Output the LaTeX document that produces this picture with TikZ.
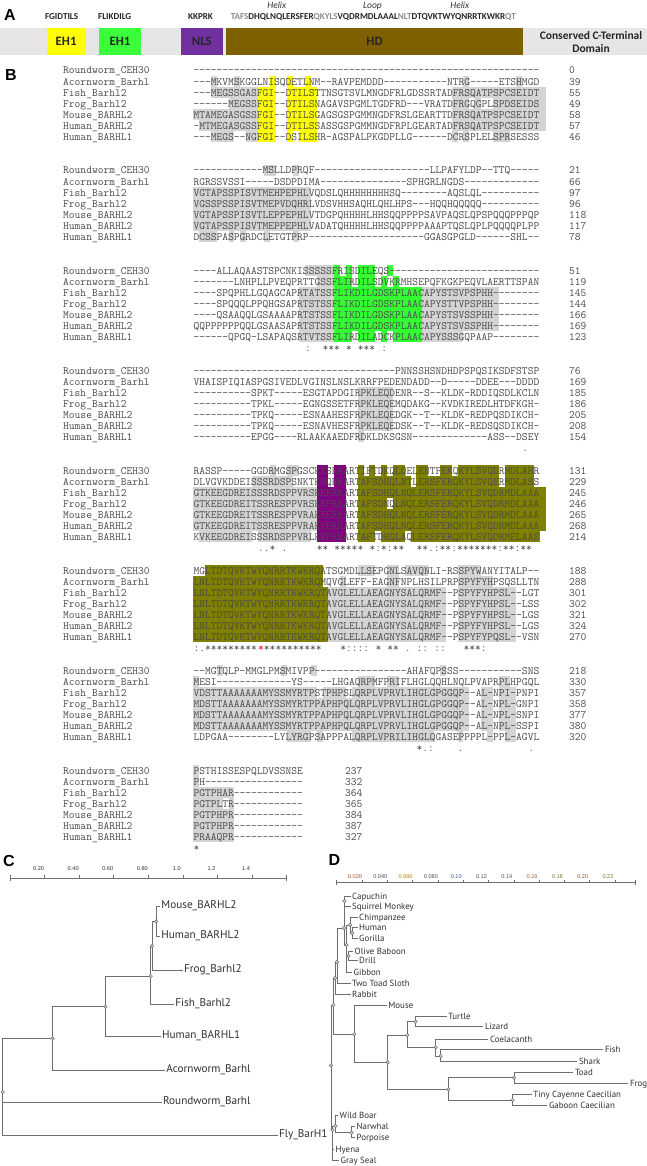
\documentclass[tikz,border=0pt]{standalone}
\usepackage{fontspec}
\newfontfamily\carl{Carlito}
\newfontfamily\pts{PT Sans}
\newfontfamily\lsans{Liberation Sans}
\newcommand\seqf{\ttfamily\fontsize{11.19}{12}\selectfont}
\definecolor{hlgray}{HTML}{D4D4D4}
\definecolor{hlyel}{HTML}{FFFF00}
\definecolor{hlgrn}{HTML}{33FF33}
\definecolor{hlpur}{HTML}{800080}
\definecolor{hlolv}{HTML}{808000}
\definecolor{hdc}{HTML}{7F6000}
\definecolor{nlsc}{HTML}{7030A0}
\definecolor{eh1g}{HTML}{3CFF3C}
\definecolor{barbg}{HTML}{E6E6E6}
\definecolor{seqc}{HTML}{4A4A4A}
\definecolor{treeg}{HTML}{6E6E6E}
\definecolor{leafc}{HTML}{303030}
\definecolor{tnfill}{HTML}{D8D8D8}
\definecolor{faint}{HTML}{8C8C8C}
\newcommand\hlrun[5]{\fill[#1] ({193.3+5.873*(#4)},{70.5+100*(#2)+11.05*(#3)-5.6}) rectangle ({193.3+5.873*((#5)+1)},{70.5+100*(#2)+11.05*(#3)+5.6});}
\newcommand\seqrow[5]{%
 \node[seqtxt] (s#1#2) at (193.3,{74+100*(#1)+11.05*(#2)}) {#3};
 \node[seqtxt] (n#1#2) at (#5,{74+100*(#1)+11.05*(#2)}) {#4};}
\newcommand\csn[4]{\node[seqtxt,#4] (c#1x#2) at ({193.3+5.873*(#2)},{74+100*(#1)+11.05*7}) {#3};}
\begin{document}
\begin{tikzpicture}[x=1pt,y=-1pt,
 seqtxt/.style={inner sep=0pt, anchor=base west, text=seqc, font=\seqf},
 br/.style={draw=treeg, line width=0.9pt},
 tn/.style={circle, draw=treeg, fill=tnfill, inner sep=0pt, minimum size=3.4pt, line width=0.5pt},
 lfC/.style={anchor=base west, inner sep=0pt, text=leafc, font=\pts\fontsize{11.2}{12}\selectfont},
 lfD/.style={anchor=base west, inner sep=0pt, text=leafc, font=\pts\fontsize{8.9}{10}\selectfont},
 scbar/.style={draw=treeg, line width=0.6pt},
 scl/.style={inner sep=0pt, anchor=base, text=leafc, font=\lsans\fontsize{5.6}{6}\selectfont},
 abox/.style={minimum height=27pt, inner sep=0pt, text=black!85, font=\carl\bfseries\fontsize{12.8}{14}\selectfont},
 alab/.style={anchor=base, inner sep=0pt, text=black!85, font=\carl\bfseries\fontsize{9.1}{10}\selectfont},
 ait/.style={anchor=base, inner sep=0pt, text=black!80, font=\carl\itshape\fontsize{9.5}{10}\selectfont},
 plab/.style={anchor=base west, inner sep=0pt, text=black, font=\lsans\bfseries\fontsize{16}{18}\selectfont}]
\useasboundingbox (0,0) rectangle (647,1166);
\fill[white] (0,0) rectangle (647,1166);

% ---------------- Panel A ----------------
\node[plab] (pA) at (4,20.5) {A};
\fill[barbg] (0,28) rectangle (647,55);
\node[abox, fill=hlyel, minimum width=38.8pt] (eh1y) at (66.1,41.5) {EH1};
\node[abox, fill=eh1g, minimum width=42pt] (eh1gr) at (120,41.5) {EH1};
\node[abox, fill=nlsc, minimum width=42.4pt] (nls) at (201.8,41.5) {NLS};
\node[abox, fill=hdc, minimum width=296.3pt] (hd) at (374.55,41.5) {HD};
\node[font=\carl\bfseries\fontsize{11.5}{13.5}\selectfont, align=center, text=black!85, inner sep=0pt] (ctd) at (591,42) {Conserved C-Terminal\\Domain};
\node[alab] (lfg) at (61.6,20) {FGIDTILS};
\node[alab] (lfl) at (114.7,20) {FLIKDILG};
\node[alab] (lkk) at (200.5,20) {KKPRK};
\node[alab, anchor=base west] (lhd) at (230.6,20) {\textcolor{faint}{TAFS}DHQLNQLERSFER\textcolor{faint}{QKYLS}VQDRMDLAAAL\textcolor{faint}{NLT}DTQVKTWYQNRRTKWKR\textcolor{faint}{QT}};
\node[ait] (hx1) at (276.8,8.5) {Helix};
\node[ait] (lp1) at (372.5,8.5) {Loop};
\node[ait] (hx2) at (459.8,8.5) {Helix};

% ---------------- Panel B ----------------
\node[plab] (pB) at (5,81) {B};
% gray shading
\foreach \qb/\qr/\qs/\qe in {0/1/3/3,0/1/7/7,0/1/46/46,0/1/55/55,
 0/2/3/10,0/2/44/59,0/3/6/10,0/3/44/46,0/3/48/48,0/3/51/59,0/4/0/10,0/4/44/59,0/5/1/10,0/5/44/59,
 0/6/3/6,0/6/9/10,0/6/44/44,0/6/46/46,0/6/51/53,
 1/0/12/13,1/0/17/17,1/2/0/19,1/3/0/19,1/4/0/19,1/5/0/19,1/6/1/3,1/6/6/6,1/6/8/8,1/6/12/12,1/6/17/17,
 2/0/19/23,2/1/21/23,2/2/18/23,2/2/39/51,2/3/18/23,2/3/39/51,2/4/18/23,2/4/39/51,2/5/18/23,2/5/39/51,2/6/18/23,2/6/39/45,
 3/2/28/33,3/3/28/33,3/4/28/33,3/5/28/33,3/6/28/28,
 4/0/13/13,4/0/16/17,4/1/10/16,4/2/0/20,4/3/0/20,4/4/0/20,4/5/0/20,4/6/1/9,4/6/11/19,
 5/0/28/30,5/0/33/34,5/0/36/39,5/0/45/48,5/1/25/25,5/1/33/34,5/1/45/50,
 5/2/23/42,5/2/45/54,5/3/23/42,5/3/45/54,5/4/23/42,5/4/45/54,5/5/23/42,5/5/45/54,5/6/23/42,5/6/45/54,
 6/0/4/4,6/0/15/15,6/0/20/20,6/0/42/42,6/1/0/0,6/1/28/30,6/1/33/34,6/1/52/53,
 6/2/0/20,6/2/22/25,6/2/27/46,6/2/49/50,6/2/52/54,6/3/0/46,6/3/49/50,6/3/52/54,
 6/4/0/46,6/4/49/50,6/4/52/54,6/5/0/46,6/5/49/50,6/5/52/54,
 6/6/16/19,6/6/21/21,6/6/27/40,6/6/45/45,6/6/50/50,6/6/53/54,
 7/0/0/0,7/1/0/0,7/2/0/6,7/3/0/4,7/3/6/6,7/4/0/6,7/5/0/6,7/6/0/6}
 {\hlrun{hlgray}{\qb}{\qr}{\qs}{\qe}}
% EH1 (yellow)
\foreach \qb/\qr/\qs/\qe in {0/1/13/13,0/1/16/16,0/1/19/19,0/2/11/13,0/2/16/20,0/3/11/13,0/3/16/20,
 0/4/11/13,0/4/16/20,0/5/11/13,0/5/16/20,0/6/11/13,0/6/16/16,0/6/18/20}
 {\hlrun{hlyel}{\qb}{\qr}{\qs}{\qe}}
% EH1 (green)
\foreach \qb/\qr/\qs/\qe in {2/0/24/24,2/0/26/26,2/0/28/30,2/0/33/33,2/1/24/26,2/1/28/30,2/1/32/32,2/1/34/34,
 2/2/24/38,2/3/24/38,2/4/24/38,2/5/24/38,2/6/24/26,2/6/28/30,2/6/32/32,2/6/34/38}
 {\hlrun{hlgrn}{\qb}{\qr}{\qs}{\qe}}
% NLS (purple)
\foreach \qb/\qr/\qs/\qe in {4/0/21/22,4/0/24/25,4/1/21/22,4/1/24/25,4/2/21/25,4/3/21/25,4/4/21/25,4/5/21/25,4/6/21/25}
 {\hlrun{hlpur}{\qb}{\qr}{\qs}{\qe}}
% HD (olive)
\foreach \qb/\qr/\qs/\qe in {4/0/28/28,4/0/30/30,4/0/32/32,4/0/34/35,4/0/38/39,4/0/42/43,4/0/45/51,4/0/53/57,
 4/1/28/36,4/1/38/51,4/1/53/57,4/2/28/59,4/3/28/32,4/3/34/59,4/4/28/59,4/5/28/59,
 4/6/28/30,4/6/32/35,4/6/37/58,
 5/0/2/21,5/1/0/21,5/2/0/22,5/3/0/22,5/4/0/22,5/5/0/22,5/6/0/22}
 {\hlrun{hlolv}{\qb}{\qr}{\qs}{\qe}}
% names
\foreach \qb in {0,...,7}{
 \foreach \qr/\qn in {0/Roundworm\_CEH30,1/Acornworm\_Barhl,2/Fish\_Barhl2,3/Frog\_Barhl2,4/Mouse\_BARHL2,5/Human\_BARHL2,6/Human\_BARHL1}
 {\node[seqtxt] (nm\qb\qr) at (63,{74+100*\qb+11.05*\qr}) {\qn};}
}
% block 1
\seqrow{0}{0}{------------------------------------------------------------}{0}{569}
\seqrow{0}{1}{---MKVMSKGGLNISQDETLNM--RAVPEMDDD-----------NTRG-----ETSHMGD}{39}{569}
\seqrow{0}{2}{---MEGSSGASFGI--DTILSTTNSGTSVLMNGDFRLGDSSRTADFRSQATPSPCSEIDT}{55}{569}
\seqrow{0}{3}{------MEGSSFGI--DTILSNAGAVSPGMLTGDFRD---VRATDFRGQGPLSPDSEIDS}{49}{569}
\seqrow{0}{4}{MTAMEGASGSSFGI--DTILSGAGSGSPGMMNGDFRSLGEARTTDFRSQATPSPCSEIDT}{58}{569}
\seqrow{0}{5}{-MTMEGASGSSFGI--DTILSSASSGSPGMMNGDFRPLGEARTADFRSQATPSPCSEIDT}{57}{569}
\seqrow{0}{6}{---MEGS--NGFGI--DSILSHR-AGSPALPKGDPLLG------DCRSPLELSPRSESSS}{46}{569}
% block 2
\seqrow{1}{0}{------------MSLLDPRQF--------------------LLPAFYLDP--TTQ-----}{21}{569}
\seqrow{1}{1}{RGRSSVSSI-----DSDPDIMA---------------SPHGRLNGDS-------------}{66}{569}
\seqrow{1}{2}{VGTAPSSPISVTMEHPEPHLVQDSLQHHHHHHHHSQ--------AQSLQL----------}{97}{569}
\seqrow{1}{3}{VGSSPSSPISVTMEPVDQHRLVDSVHHSAQHLQHLHPS---HQQHQQQQQ----------}{96}{569}
\seqrow{1}{4}{VGTAPSSPISVTLEPPEPHLVTDGPQHHHHLHHSQQPPPPSAVPAQSLQPSPQQQPPPQP}{118}{569}
\seqrow{1}{5}{VGTAPSSPISVTMEPPEPHLVADATQHHHHLHHSQQPPPPAAAPTQSLQPLPQQQQPLPP}{117}{569}
\seqrow{1}{6}{DCSSPASPGRDCLETGTPRP--------------------GGASGPGLD------SHL--}{78}{569}
% block 3
\seqrow{2}{0}{----ALLAQAASTSPCNKISSSSSFRISDILEQS--------------------------}{51}{569}
\seqrow{2}{1}{-------LNHPLLPVEQPRTTGSSFLIRDILSDVKRMHSEPQFKGKPEQVLAERTTSPAN}{119}{569}
\seqrow{2}{2}{----SPQPHLLGQAGCAPRTATSSFLIKDILGDSKPLAACAPYSTSVPSPHH--------}{145}{569}
\seqrow{2}{3}{----SPQQQLPPQHGSAPRTSTSSFLIKDILGDSKPLAACAPYSTTVPSPHH--------}{144}{569}
\seqrow{2}{4}{----QSAAQQLGSAAAAPRTSTSSFLIKDILGDSKPLAACAPYSTSVSSPHH--------}{166}{569}
\seqrow{2}{5}{QQPPPPPPQQLGSAASAPRTSTSSFLIKDILGDSKPLAACAPYSTSVSSPHH--------}{169}{569}
\seqrow{2}{6}{------QPGQ-LSAPAQSRTVTSSFLIRDILADCKPLAACAPYSSSGQPAAP--------}{123}{569}
\csn{2}{19}{:}{} \csn{2}{22}{***}{} \csn{2}{26}{*}{} \csn{2}{28}{***}{} \csn{2}{32}{:}{}
% block 4
\seqrow{3}{0}{-----------------------------------PNNSSHSNDHDPSPQSIKSDFSTSP}{76}{569}
\seqrow{3}{1}{VHAISPIQIASPGSIVEDLVGINSLNSLKRRFPEDENDADD--D-----DDEE---DDDD}{169}{569}
\seqrow{3}{2}{----------SPKT-----ESGTAPDGIRPKLEQDENR--S--KLDK-RDDIQSDLKCLN}{185}{569}
\seqrow{3}{3}{----------TPKL-----EGNGSSETFRPKLEQEMQDAKG--KVDKIREDLHTDFKGH-}{186}{569}
\seqrow{3}{4}{----------TPKQ-----ESNAAHESFRPKLEQEDGK--T--KLDK-REDPQSDIKCH-}{205}{569}
\seqrow{3}{5}{----------TPKQ-----ESNAVHESFRPKLEQEDSK--T--KLDK-REDSQSDIKCH-}{208}{569}
\seqrow{3}{6}{----------EPGG----RLAAKAAEDFRDKLDKSGSN-------------ASS--DSEY}{154}{569}
\csn{3}{56}{.}{}
% block 5
\seqrow{4}{0}{RASSP-----GGDRMGSPGSCKKSRKARTIFTDKQLQELENTFEKQKYLSVQDRMDLAHR}{131}{569}
\seqrow{4}{1}{DLVGVKDDEISSSRDSPSNKTKKQRKARTAFSDHQLNTLERSFERQKYLSVQERMDLASS}{229}{569}
\seqrow{4}{2}{GTKEEGDREISSSRDSPPVRSKKPRKARTAFSDHQLNQLERSFERQKYLSVQDRMDLAAA}{245}{569}
\seqrow{4}{3}{GTKEEGDREITSSRESPPVRSKKPRKARTAFSDNQLNQLERSFERQKYLSVQDRMDLAAA}{246}{569}
\seqrow{4}{4}{GTKEEGDREITSSRESPPVRAKKERKARTAFSDHQLNQLERSFERQKYLSVQDRMDLAAA}{265}{569}
\seqrow{4}{5}{GTKEEGDREITSSRESPPVRAKKERKARTAFSDHQLNQLERSFERQKYLSVQDRMDLAAA}{268}{569}
\seqrow{4}{6}{KVKEEGDREISSSRDSPPVRLKKPRKARTAFTDHQLAQLERSFERQKYLSVQDRMELAAS}{214}{569}
\csn{4}{11}{..*}{} \csn{4}{15}{.}{} \csn{4}{21}{**}{} \csn{4}{24}{*****}{} \csn{4}{30}{*:*:**}{} \csn{4}{38}{**.:**:*******:**:**}{}
% block 6
\seqrow{5}{0}{MGLTDTQVKTWYQNRRTKWKRQATSGMDLLSEPGNLSAVQNLI-RSSPYWANYITALP--}{188}{569}
\seqrow{5}{1}{LNLTDTQVKTWYQNRRTKWKRQMQVGLEFF-EAGNFNPLHSILPRPSPYFYHPSQSLLTN}{288}{569}
\seqrow{5}{2}{LNLTDTQVKTWYQNRRTKWKRQTAVGLELLAEAGNYSALQRMF--PSPYFYHPSL--LGT}{301}{569}
\seqrow{5}{3}{LNLTDTQVKTWYQNRRTKWKRQTAVGLELLAEAGNYSALQRMF--PSPYFYHPSL--LSS}{302}{569}
\seqrow{5}{4}{LNLTDTQVKTWYQNRRTKWKRQTAVGLELLAEAGNYSALQRMF--PSPYFYHPSL--LGS}{321}{569}
\seqrow{5}{5}{LNLTDTQVKTWYQNRRTKWKRQTAVGLELLAEAGNYSALQRMF--PSPYFYHPSL--LGS}{324}{569}
\seqrow{5}{6}{LNLTDTQVKTWYQNRRTKWKRQTAVGLELLAEAGNYSALQRMF--PSPYFYPQSL--VSN}{270}{569}
\csn{5}{0}{:.*********}{} \csn{5}{11}{*}{text=red} \csn{5}{12}{**********}{}
\csn{5}{25}{*::::}{} \csn{5}{31}{*}{} \csn{5}{33}{**}{} \csn{5}{36}{.}{} \csn{5}{38}{::}{} \csn{5}{41}{::}{} \csn{5}{46}{***:}{}
% block 7
\seqrow{6}{0}{--MGTQLP-MMGLPMSMIVPP----------------AHAFQPSSS-----------SNS}{218}{569}
\seqrow{6}{1}{MESI-------------YS-----LHGAQRPMFPRIFLHGLQQHLNQLPVAPRPLHPGQL}{330}{569}
\seqrow{6}{2}{VDSTTAAAAAAAMYSSMYRTPSTPHPSLQRPLVPRVLIHGLGPGGQP--AL-NPI-PNPI}{357}{569}
\seqrow{6}{3}{MDSTTAAAAAAAMYSSMYRTPPAPHPQLQRPLVPRVLIHGLGPGGQP--AL-NPL-GNPI}{358}{569}
\seqrow{6}{4}{MDSTTAAAAAAAMYSSMYRTPPAPHPQLQRPLVPRVLIHGLGPGGQP--AL-NPL-SNPI}{377}{569}
\seqrow{6}{5}{MDSTTAAAAAAAMYSSMYRTPPAPHPQLQRPLVPRVLIHGLGPGGQP--AL-NPL-SSPI}{380}{569}
\seqrow{6}{6}{LDPGAA--------LYLYRGPSAPPPALQRPLVPRILIHGLQGASEPPPPL-PPL-AGVL}{320}{569}
\csn{6}{38}{*.:}{} \csn{6}{45}{.}{} \csn{6}{57}{.}{}
% block 8
\seqrow{7}{0}{PSTHISSESPQLDVSSNSE}{237}{345}
\seqrow{7}{1}{PH-----------------}{332}{345}
\seqrow{7}{2}{PGTPHAR------------}{364}{345}
\seqrow{7}{3}{PGTPLTR------------}{365}{345}
\seqrow{7}{4}{PGTPHPR------------}{384}{345}
\seqrow{7}{5}{PGTPHPR------------}{387}{345}
\seqrow{7}{6}{PRAAQPR------------}{327}{345}
\csn{7}{0}{*}{}

% ---------------- Panel C ----------------
\node[plab] (pC) at (3,866.7) {C};
\draw[scbar] (10,878.3) -- (286.7,878.3);
\foreach \k in {0,...,8} {\draw[scbar] ({10+34.59*\k},878.3) -- ++(0,-3);}
\draw[scbar] (10,878.3) -- ++(0,2.5);
\draw[scbar] (286.7,878.3) -- ++(0,2.5);
\foreach \k/\t in {1/0.20,2/0.40,3/0.60,4/0.80,5/1.0,6/1.2,7/1.4}
 {\node[scl] (cs\k) at ({10+34.59*\k-6},870) {\t};}
\coordinate (cMH) at (156,921.5);
\coordinate (cMHF) at (152,946);
\coordinate (cMHFF) at (150.7,976);
\coordinate (cV) at (105.3,1006.5);
\coordinate (cD) at (52.7,1038.3);
\coordinate (cR) at (2.7,1092);
\foreach \qn/\qx/\qy/\qt in {Mo/160/906/Mouse\_BARHL2,Hu/160/936/Human\_BARHL2,Fr/182.7/970.5/Frog\_Barhl2,
 Fi/174/1004.3/Fish\_Barhl2,Hl/160.7/1036.7/Human\_BARHL1,Ac/165/1070/Acornworm\_Barhl,
 Ro/161.7/1102.3/Roundworm\_Barhl,Fl/277.7/1135.7/Fly\_BarH1}
 {\coordinate (e\qn) at (\qx,\qy);
  \node[lfC] (l\qn) at ({\qx+1.2},{\qy+2}) {\qt};}
\draw[br] (cMH) |- (eMo); \draw[br] (cMH) |- (eHu);
\draw[br] (cMHF) |- (cMH); \draw[br] (cMHF) |- (eFr);
\draw[br] (cMHFF) |- (cMHF); \draw[br] (cMHFF) |- (eFi);
\draw[br] (cV) |- (cMHFF); \draw[br] (cV) |- (eHl);
\draw[br] (cD) |- (cV); \draw[br] (cD) |- (eAc);
\draw[br] (cR) |- (cD); \draw[br] (cR) |- (eRo); \draw[br] (cR) |- (eFl);
\foreach \qc in {cMH,cMHF,cMHFF,cV,cD,cR} {\node[tn] (k\qc) at (\qc) {};}

% ---------------- Panel D ----------------
\node[plab] (pD) at (328.5,865) {D};
\draw[scbar] (336.7,882.7) -- (635,882.7);
\foreach \k in {0,...,11} {\draw[scbar] ({336.7+25.3*\k},882.7) -- ++(0,-3);}
\draw[scbar] (336.7,882.7) -- ++(0,2.5);
\draw[scbar] (635,882.7) -- ++(0,-3) ++(0,3) -- ++(0,2.5);
\foreach \k/\t/\qcol in {1/0.020/A0522D,2/0.040/505050,3/0.060/B8860B,4/0.080/505050,5/0.10/4060A0,6/0.12/505050,
 7/0.14/505050,8/0.16/A06030,9/0.18/6A8A3A,10/0.20/8A5A30,11/0.22/7A7A30}
 {\definecolor{tc}{HTML}{\qcol}\node[scl, text=tc] (ds\k) at ({336.7+25.3*\k-7},878) {\t};}
\coordinate (dNW) at (344.5,901);
\coordinate (dHG) at (352,933);
\coordinate (dCHG) at (350,925);
\coordinate (dOW) at (348.5,956);
\coordinate (dCat) at (346.5,945);
\coordinate (dPri) at (344,928);
\coordinate (dE1) at (337,962);
\coordinate (dE2) at (335,978);
\coordinate (dE3) at (333.3,1005);
\coordinate (dMou) at (354.3,1034);
\coordinate (dTet) at (387.7,1062.3);
\coordinate (dRep) at (407.3,1035);
\coordinate (dTL) at (415.7,1021.7);
\coordinate (dCFS) at (435.7,1047.3);
\coordinate (dFS) at (440.7,1056);
\coordinate (dAmph) at (448.3,1089.3);
\coordinate (dTF) at (514,1077.7);
\coordinate (dCae) at (512.7,1100);
\coordinate (dNP) at (351.7,1132.7);
\coordinate (dBNP) at (335.5,1126);
\coordinate (dL) at (332.5,1130);
\coordinate (dRoot) at (331,1065.5);
\foreach \qn/\qx/\qy/\qt in {Cap/350.5/896/Capuchin,Sqm/350.5/906.7/Squirrel Monkey,Chi/357.5/917.3/Chimpanzee,
 Hum/357.5/927.7/Human,Gor/357.5/938.3/Gorilla,Bab/353/951/Olive Baboon,Dri/357.5/960.7/Drill,
 Gib/352/972.3/Gibbon,Slo/350.5/983.3/Two Toad Sloth,Rab/350.5/994/Rabbit,Mou/386.7/1005/Mouse,
 Tur/446.7/1016/Turtle,Liz/483.3/1026/Lizard,Coe/488.3/1039/Coelacanth,Fis/603.3/1049/Fish,
 Sha/577.3/1061/Shark,Toa/573.3/1072.3/Toad,Fro/628.3/1083.3/Frog,Tcc/531.7/1094.3/Tiny Cayenne Caecilian,
 Gab/547.3/1105.3/Gaboon Caecilian,Boa/338/1115.7/Wild Boar,Nar/355/1126.7/Narwhal,Por/355/1137.7/Porpoise,
 Hye/334/1149.3/Hyena,Sea/339/1160.7/Gray Seal}
 {\coordinate (f\qn) at (\qx,\qy);
  \node[lfD] (m\qn) at ({\qx+1.5},{\qy+3}) {\qt};}
\draw[br] (dNW) |- (fCap); \draw[br] (dNW) |- (fSqm);
\draw[br] (dHG) |- (fHum); \draw[br] (dHG) |- (fGor);
\draw[br] (dCHG) |- (fChi); \draw[br] (dCHG) |- (dHG);
\draw[br] (dOW) |- (fBab); \draw[br] (dOW) |- (fDri);
\draw[br] (dCat) |- (dCHG); \draw[br] (dCat) |- (dOW); \draw[br] (dCat) |- (fGib);
\draw[br] (dPri) |- (dNW); \draw[br] (dPri) |- (dCat);
\draw[br] (dE1) |- (dPri); \draw[br] (dE1) |- (fSlo);
\draw[br] (dE2) |- (dE1); \draw[br] (dE2) |- (fRab);
\draw[br] (dE3) |- (dE2); \draw[br] (dE3) |- (dMou);
\draw[br] (dMou) |- (fMou); \draw[br] (dMou) |- (dTet);
\draw[br] (dTet) |- (dRep); \draw[br] (dTet) |- (dAmph);
\draw[br] (dRep) |- (dTL); \draw[br] (dRep) |- (dCFS);
\draw[br] (dTL) |- (fTur); \draw[br] (dTL) |- (fLiz);
\draw[br] (dCFS) |- (fCoe); \draw[br] (dCFS) |- (dFS);
\draw[br] (dFS) |- (fFis); \draw[br] (dFS) |- (fSha);
\draw[br] (dAmph) |- (dTF); \draw[br] (dAmph) |- (dCae);
\draw[br] (dTF) |- (fToa); \draw[br] (dTF) |- (fFro);
\draw[br] (dCae) |- (fTcc); \draw[br] (dCae) |- (fGab);
\draw[br] (dNP) |- (fNar); \draw[br] (dNP) |- (fPor);
\draw[br] (dBNP) |- (fBoa); \draw[br] (dBNP) |- (dNP);
\draw[br] (dL) |- (dBNP); \draw[br] (dL) |- (fHye); \draw[br] (dL) |- (fSea);
\draw[br] (dRoot) |- (dE3); \draw[br] (dRoot) |- (dL);
\foreach \qc in {dNW,dHG,dCHG,dOW,dCat,dPri,dE1,dE2,dE3,dMou,dTet,dRep,dTL,dCFS,dFS,dAmph,dTF,dCae,dNP,dBNP,dL,dRoot}
 {\node[tn] (k\qc) at (\qc) {};}
\end{tikzpicture}
\end{document}
